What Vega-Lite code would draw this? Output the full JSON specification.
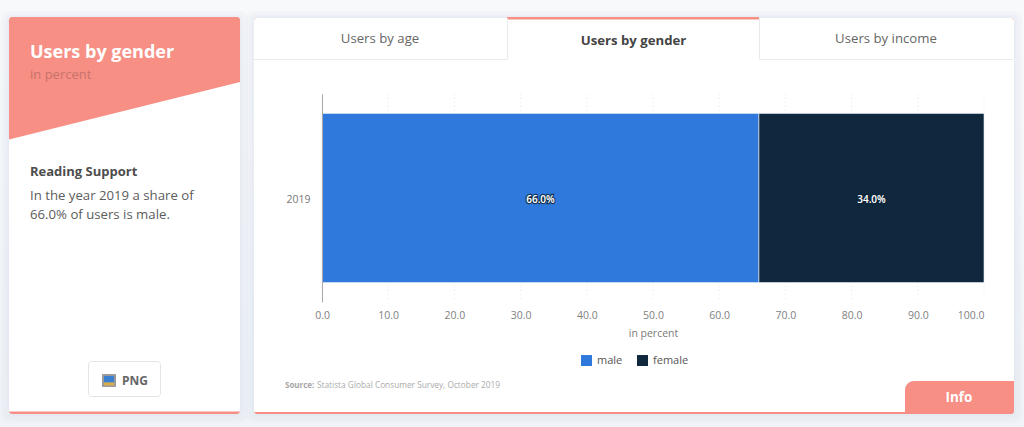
{
"$schema":"https://vega.github.io/schema/vega-lite/v6.json",
"width":662,"height":208,
"autosize":{"type":"none"},
"padding":{"left":322,"top":94,"right":40,"bottom":125},
"background":"#f3f5f9",
"config":{"font":"Open Sans","view":{"stroke":null}},
"layer":[
{"encoding":{
 "x":{"field":"x0","type":"quantitative","axis":null,"scale":{"domain":[0,1024],"range":[-322,702]}},
 "y":{"field":"y0","type":"quantitative","axis":null,"scale":{"domain":[0,427],"range":[-94,333]}}
 },
 "layer":[
 {"data":{"values":[{"x0":0,"x1":1024,"y0":0,"y1":427}]},
  "mark":{"type":"rect","color":{"gradient":"linear","x1":0,"y1":0,"x2":0,"y2":1,"stops":[{"offset":0,"color":"#f8f9fb"},{"offset":1,"color":"#f0f3f7"}]}},
  "encoding":{"x2":{"field":"x1"},"y2":{"field":"y1"}}},
 {"data":{"values":[
  {"x0":1,"x1":248,"y0":11,"y1":422},{"x0":246,"x1":1022,"y0":11,"y1":422},
  {"x0":4,"x1":245,"y0":14,"y1":419},{"x0":249,"x1":1019,"y0":14,"y1":419},
  {"x0":7,"x1":242,"y0":16,"y1":416},{"x0":252,"x1":1016,"y0":16,"y1":416}]},
  "mark":{"type":"rect","fill":"#d3dae5","opacity":0.13,"cornerRadius":8},
  "encoding":{"x2":{"field":"x1"},"y2":{"field":"y1"}}},
 {"data":{"values":[{"x0":9,"x1":240,"y0":17,"y1":414},{"x0":254,"x1":1014,"y0":18,"y1":414}]},
  "mark":{"type":"rect","fill":"#f78f85","cornerRadius":3},
  "encoding":{"x2":{"field":"x1"},"y2":{"field":"y1"}}},
 {"data":{"values":[{"x0":9,"x1":240,"y0":30,"y1":411.5},{"x0":254,"x1":1014,"y0":30,"y1":412}]},
  "mark":{"type":"rect","fill":"#ffffff"},
  "encoding":{"x2":{"field":"x1"},"y2":{"field":"y1"}}},
 {"data":{"values":[{"x0":254,"x1":1014,"y0":18,"y1":40}]},
  "mark":{"type":"rect","fill":"#ffffff","cornerRadiusTopLeft":3,"cornerRadiusTopRight":3},
  "encoding":{"x2":{"field":"x1"},"y2":{"field":"y1"}}},
 {"data":{"values":[{"x0":9,"y0":25,"y1":139.5},{"x0":240,"y0":25,"y1":82}]},
  "mark":{"type":"area","fill":"#f78f85"},
  "encoding":{"y2":{"field":"y1"}}},
 {"data":{"values":[{"x0":507,"x1":759,"y0":17,"y1":19.5}]},
  "mark":{"type":"rect","fill":"#f78f85"},
  "encoding":{"x2":{"field":"x1"},"y2":{"field":"y1"}}},
 {"data":{"values":[{"x0":905,"x1":1014,"y0":381,"y1":414}]},
  "mark":{"type":"rect","fill":"#f78f85","cornerRadiusTopLeft":9,"cornerRadiusBottomRight":3},
  "encoding":{"x2":{"field":"x1"},"y2":{"field":"y1"}}},
 {"data":{"values":[
  {"x0":254,"x1":507,"y0":59.5,"y1":59.5},{"x0":507.5,"x1":507.5,"y0":18,"y1":59.5},
  {"x0":759.5,"x1":759.5,"y0":18,"y1":59.5},{"x0":759.5,"x1":1013,"y0":59.5,"y1":59.5}]},
  "mark":{"type":"rule","color":"#e8eaef","strokeWidth":1},
  "encoding":{"x2":{"field":"x1"},"y2":{"field":"y1"}}},
 {"data":{"values":[{"x0":88.5,"x1":160.5,"y0":361.5,"y1":396.5}]},
  "mark":{"type":"rect","fill":"#ffffff","stroke":"#e2e3e6","strokeWidth":1,"cornerRadius":3},
  "encoding":{"x2":{"field":"x1"},"y2":{"field":"y1"}}},
 {"data":{"values":[{"x0":102,"x1":116,"y0":374,"y1":387}]},
  "mark":{"type":"rect","fill":"#9a9a9a","cornerRadius":1},
  "encoding":{"x2":{"field":"x1"},"y2":{"field":"y1"}}},
 {"data":{"values":[{"x0":104,"x1":114,"y0":376,"y1":382.5}]},
  "mark":{"type":"rect","fill":"#3a80d2"},
  "encoding":{"x2":{"field":"x1"},"y2":{"field":"y1"}}},
 {"data":{"values":[{"x0":104,"x1":114,"y0":382.5,"y1":385.5}]},
  "mark":{"type":"rect","fill":"#d8ae4c"},
  "encoding":{"x2":{"field":"x1"},"y2":{"field":"y1"}}},
 {"data":{"values":[{"t":"Users by gender","x0":30,"y0":58}]},
  "mark":{"type":"text","align":"left","baseline":"alphabetic","fontSize":18,"fontWeight":700,"fill":"#ffffff"},
  "encoding":{"text":{"field":"t"}}},
 {"data":{"values":[{"t":"in percent","x0":30,"y0":79}]},
  "mark":{"type":"text","align":"left","baseline":"alphabetic","fontSize":13,"fill":"#c8736b"},
  "encoding":{"text":{"field":"t"}}},
 {"data":{"values":[{"t":"Reading Support","x0":30,"y0":176}]},
  "mark":{"type":"text","align":"left","baseline":"alphabetic","fontSize":13,"fontWeight":700,"fill":"#4d4d4d"},
  "encoding":{"text":{"field":"t"}}},
 {"data":{"values":[{"t":"In the year 2019 a share of","x0":30,"y0":200},{"t":"66.0% of users is male.","x0":30,"y0":219}]},
  "mark":{"type":"text","align":"left","baseline":"alphabetic","fontSize":13.2,"fill":"#5c5c5c"},
  "encoding":{"text":{"field":"t"}}},
 {"data":{"values":[{"t":"PNG","x0":122,"y0":385}]},
  "mark":{"type":"text","align":"left","baseline":"alphabetic","fontSize":12,"fontWeight":700,"fill":"#666666"},
  "encoding":{"text":{"field":"t"}}},
 {"data":{"values":[{"t":"Users by age","x0":380,"y0":43},{"t":"Users by income","x0":886,"y0":43}]},
  "mark":{"type":"text","align":"center","baseline":"alphabetic","fontSize":13.2,"fill":"#666666"},
  "encoding":{"text":{"field":"t"}}},
 {"data":{"values":[{"t":"Users by gender","x0":633.5,"y0":45}]},
  "mark":{"type":"text","align":"center","baseline":"alphabetic","fontSize":13.2,"fontWeight":700,"fill":"#444444"},
  "encoding":{"text":{"field":"t"}}},
 {"data":{"values":[{"t":"Source:","x0":285,"y0":388}]},
  "mark":{"type":"text","align":"left","baseline":"alphabetic","fontSize":8,"fontWeight":700,"fill":"#a6a6a6"},
  "encoding":{"text":{"field":"t"}}},
 {"data":{"values":[{"t":"Statista Global Consumer Survey, October 2019","x0":317,"y0":388}]},
  "mark":{"type":"text","align":"left","baseline":"alphabetic","fontSize":8.3,"fill":"#ababab"},
  "encoding":{"text":{"field":"t"}}},
 {"data":{"values":[{"t":"Info","x0":959,"y0":402}]},
  "mark":{"type":"text","align":"center","baseline":"alphabetic","fontSize":13.5,"fontWeight":700,"fill":"#ffffff"},
  "encoding":{"text":{"field":"t"}}}
 ]},
{"data":{"values":[
  {"year":"2019","gender":"male","share":66.0,"label":"66.0%"},
  {"year":"2019","gender":"female","share":34.0,"label":"34.0%"}]},
 "encoding":{
  "y":{"field":"year","type":"nominal","scale":{"paddingInner":0,"paddingOuter":0.115},
   "axis":{"title":null,"zindex":1,"ticks":false,"domain":true,"domainColor":"#aaaaaa","domainWidth":1,"labelFontSize":10.5,"labelColor":"#777777","labelPadding":12,"labelOffset":1.5,"labelFont":"Open Sans"}}
 },
 "layer":[
 {"data":{"values":[{"tick":0},{"tick":10},{"tick":20},{"tick":30},{"tick":40},{"tick":50},{"tick":60},{"tick":70},{"tick":80},{"tick":90},{"tick":100}]},
  "mark":{"type":"rule","color":"#e6e6e6","strokeDash":[1,3],"strokeWidth":1},
  "encoding":{"y":null,"x":{"field":"tick","type":"quantitative","scale":{"domain":[0,100],"nice":false},
    "axis":{"title":"in percent","zindex":1,"values":[0,10,20,30,40,50,60,70,80,90,100],"format":".1f","grid":false,"ticks":false,"domain":false,
     "labelFontSize":10.5,"labelColor":"#7f7f7f","labelPadding":8,"labelFont":"Open Sans","labelOverlap":false,
     "labelAlign":{"expr":"datum.value==100?'right':'center'"},
     "titleFontSize":10.5,"titleFontWeight":400,"titleColor":"#7a7a7a","titlePadding":8,"titleFont":"Open Sans"}}}},
 {"mark":{"type":"bar","stroke":"#e9eef5","strokeWidth":0.6},
  "encoding":{
   "x":{"field":"share","type":"quantitative","stack":"zero","scale":{"domain":[0,100],"nice":false},
    "axis":{"title":"in percent","zindex":1,"values":[0,10,20,30,40,50,60,70,80,90,100],"format":".1f","grid":false,"ticks":false,"domain":false,
     "labelFontSize":10.5,"labelColor":"#7f7f7f","labelPadding":8,"labelFont":"Open Sans","labelOverlap":false,
     "labelAlign":{"expr":"datum.value==100?'right':'center'"},
     "titleFontSize":10.5,"titleFontWeight":400,"titleColor":"#7a7a7a","titlePadding":8,"titleFont":"Open Sans"}},
   "color":{"field":"gender","type":"nominal","scale":{"domain":["male","female"],"range":["#2f79dc","#10283d"]},
    "legend":{"title":null,"orient":"none","legendX":259,"legendY":261,"direction":"horizontal","zindex":1,"symbolType":"square","symbolSize":120,"symbolStrokeWidth":0,"symbolOpacity":1,"labelFontSize":11,"labelColor":"#555555","labelFont":"Open Sans","columnPadding":14,"labelOffset":5}},
   "order":{"field":"gender","sort":"descending"}}},
 {"mark":{"type":"text","fontSize":10,"fontWeight":600,"dy":1.5,"stroke":"#0e2438","strokeWidth":2.4,"strokeOpacity":0.8,"fill":"#ffffff"},
  "encoding":{
   "x":{"field":"share","type":"quantitative","stack":"zero","bandPosition":0.5},
   "order":{"field":"gender","sort":"descending"},
   "text":{"field":"label"}}},
 {"mark":{"type":"text","fontSize":10,"fontWeight":600,"dy":1.5,"fill":"#ffffff"},
  "encoding":{
   "x":{"field":"share","type":"quantitative","stack":"zero","bandPosition":0.5},
   "order":{"field":"gender","sort":"descending"},
   "text":{"field":"label"}}}
 ]}
],
"resolve":{"scale":{"x":"independent","y":"independent"}}
}
